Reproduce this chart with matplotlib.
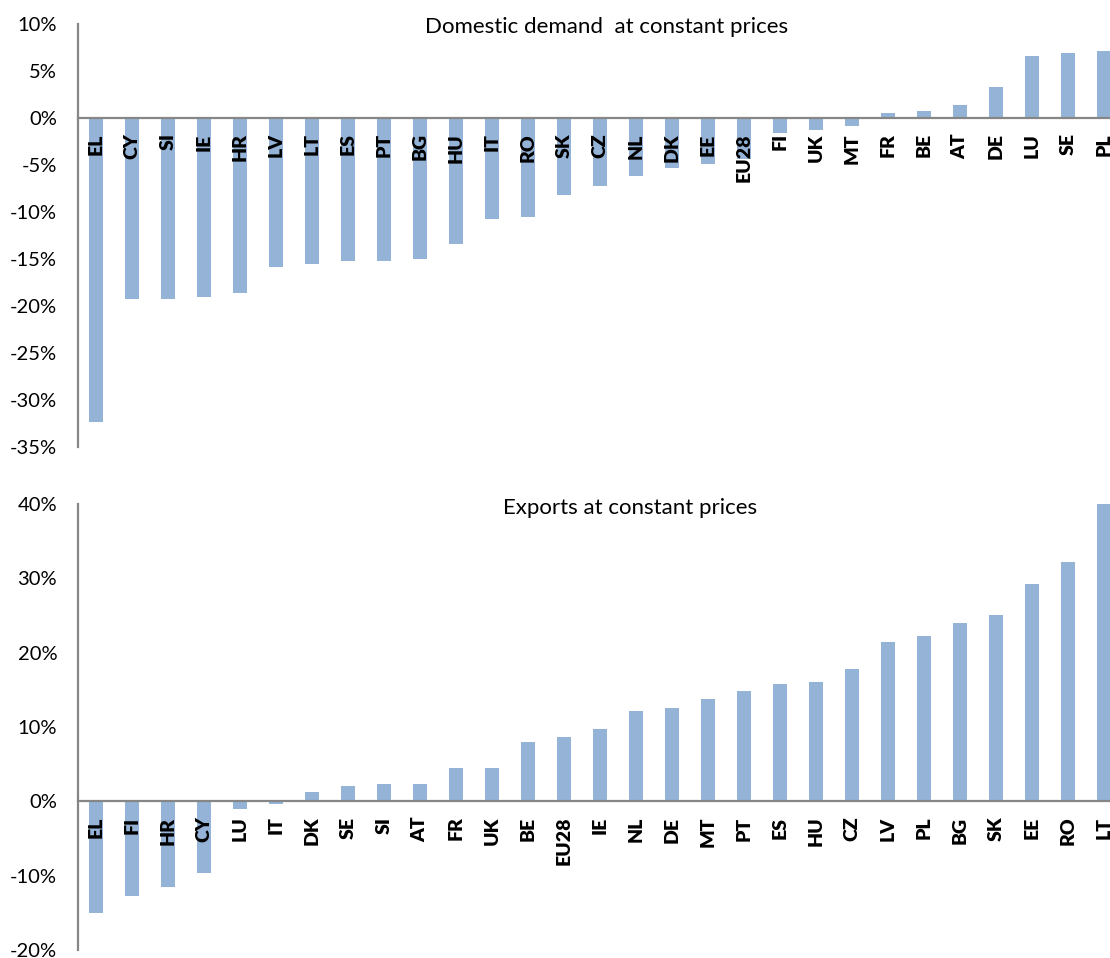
import matplotlib.pyplot as plt
from matplotlib.ticker import FuncFormatter, MultipleLocator

# domestic demand, change in %
dd_countries = ['EL', 'CY', 'SI', 'IE', 'HR', 'LV', 'LT', 'ES', 'PT', 'BG', 'HU', 'IT', 'RO', 'SK', 'CZ',
                'NL', 'DK', 'EE', 'EU28', 'FI', 'UK', 'MT', 'FR', 'BE', 'AT', 'DE', 'LU', 'SE', 'PL']
dd_values = [-32.3, -19.3, -19.3, -19.0, -18.6, -15.8, -15.5, -15.2, -15.2, -15.0, -13.4, -10.75, -10.5,
             -8.2, -7.2, -6.2, -5.3, -4.9, -4.4, -1.6, -1.25, -0.8, 0.5, 0.8, 1.4, 3.3, 6.6, 6.95, 7.1]

# exports, change in %
ex_countries = ['EL', 'FI', 'HR', 'CY', 'LU', 'IT', 'DK', 'SE', 'SI', 'AT', 'FR', 'UK', 'BE', 'EU28', 'IE',
                'NL', 'DE', 'MT', 'PT', 'ES', 'HU', 'CZ', 'LV', 'PL', 'BG', 'SK', 'EE', 'RO', 'LT']
ex_values = [-15.0, -12.8, -11.5, -9.6, -1.1, -0.35, 1.3, 2.1, 2.3, 2.3, 4.5, 4.5, 8.0, 8.6, 9.7,
             12.1, 12.6, 13.8, 14.9, 15.8, 16.0, 17.8, 21.4, 22.2, 24.0, 25.1, 29.3, 32.2, 40.0]

BAR_COLOR = '#95B3D7'
AXIS_COLOR = '#868686'

plt.rcParams['font.family'] = ['Lato', 'DejaVu Sans']

fig = plt.figure(figsize=(11.1, 9.58), dpi=100)
ax1 = fig.add_axes([0.0703, 0.5334, 0.9405, 0.4415])
ax2 = fig.add_axes([0.0703, 0.0084, 0.9405, 0.4655])


def draw_panel(ax, cats, vals, ylim, step, title, title_x):
    x = range(len(cats))
    ax.bar(x, vals, width=0.4, color=BAR_COLOR, zorder=1)
    ax.set_axisbelow(False)  # country labels sit on top of the bars
    ax.set_xlim(-0.5, len(cats) - 0.5)
    ax.set_ylim(*ylim)
    ax.yaxis.set_major_locator(MultipleLocator(step))
    ax.yaxis.set_major_formatter(FuncFormatter(lambda v, p: '%d%%' % round(v)))
    ax.spines['top'].set_visible(False)
    ax.spines['right'].set_visible(False)
    ax.spines['bottom'].set_position(('data', 0))
    for s in ['left', 'bottom']:
        ax.spines[s].set_color(AXIS_COLOR)
        ax.spines[s].set_linewidth(1.6)
    ax.set_xticks(list(x))
    ax.set_xticklabels(cats, rotation=90, fontweight='heavy', fontsize=14)
    ax.tick_params(axis='x', length=0, pad=11)
    ax.tick_params(axis='y', length=0, pad=15, labelsize=14.5, colors='black')
    ax.text(title_x, 0.992, title, transform=ax.transAxes, ha='center', va='center', fontsize=16)


draw_panel(ax1, dd_countries, dd_values, (-35, 10), 5, 'Domestic demand  at constant prices', 0.506)
draw_panel(ax2, ex_countries, ex_values, (-20, 40), 10, 'Exports at constant prices', 0.529)

fig.savefig('out.png', dpi=100)
